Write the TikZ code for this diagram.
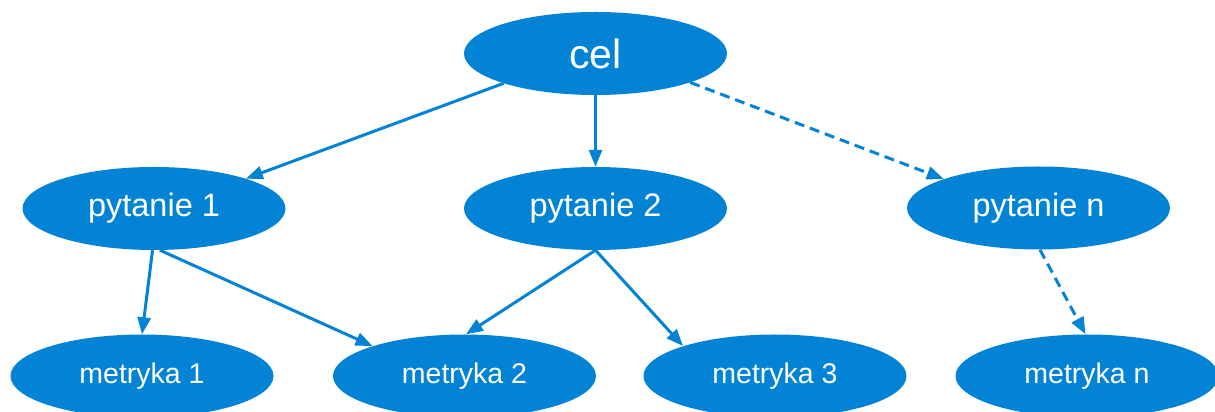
\documentclass[tikz,border=0pt]{standalone}
\usepackage{fontspec}
\setmainfont{Liberation Sans}
\usetikzlibrary{shapes.geometric,arrows.meta}
\definecolor{goalblue}{RGB}{3,131,214}
\tikzset{
  bubble/.style={ellipse, fill=goalblue, draw=none, text=white, inner sep=0pt,
    minimum width=263pt, minimum height=83pt},
  goal/.style={bubble, font=\fontsize{41}{41}\selectfont},
  question/.style={bubble, font=\fontsize{32.5}{32.5}\selectfont},
  metric/.style={bubble, font=\fontsize{28.5}{28.5}\selectfont},
  link/.style={draw=goalblue, line width=3pt, -{Triangle[length=17pt,width=13pt]}},
  maybe/.style={link, dash pattern=on 10pt off 6pt}
}
\begin{document}
\begin{tikzpicture}[x=1pt,y=1pt]
  \useasboundingbox (0,0) rectangle (1215,412);
  % goal
  \node[goal] (cel) at (595.5,358.5) {cel};
  % questions
  \node[question] (p1) at (154,203.5) {pytanie 1};
  \node[question] (p2) at (595.5,203.5) {pytanie 2};
  \node[question] (pn) at (1038.5,204) {pytanie n};
  % metrics
  \node[metric] (m1) at (142,36) {metryka 1};
  \node[metric] (m2) at (464.5,36) {metryka 2};
  \node[metric] (m3) at (775,36) {metryka 3};
  \node[metric] (mn) at (1087,36) {metryka n};
  % goal to questions
  \draw[link] (cel.198) -- (p1.18);
  \draw[link] (cel.south) -- (p2.north);
  \draw[maybe] (cel.-17) -- (pn.163);
  % questions to metrics
  \draw[link] (p1.-92) -- (m1.north);
  \draw[link] (p1.-82) -- (m2.162);
  \draw[link] (p2.south) -- (m2.88);
  \draw[link] (p2.south) -- (m3.162);
  \draw[maybe] (pn.-88) -- (mn.92);
\end{tikzpicture}
\end{document}
